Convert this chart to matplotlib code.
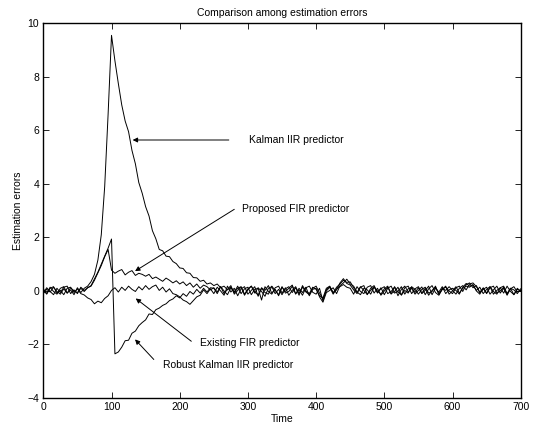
import numpy as np
import matplotlib
matplotlib.use('Agg')
import matplotlib.pyplot as plt

plt.rcParams['font.family'] = ['Liberation Sans', 'DejaVu Sans']

# sample times (every 5 steps)
time = np.arange(0, 701, 5)

kalman_iir = [
    0.08, -0.10, 0.14, -0.02, -0.12, 0.10, 0.16, -0.08, 0.04, -0.14,
    0.12, -0.06, 0.10, 0.18, 0.35, 0.62, 1.15, 2.10, 3.90, 6.60,
    9.55, 8.60, 7.75, 6.95, 6.35, 5.95, 5.25, 4.75, 4.05, 3.65,
    3.15, 2.80, 2.25, 1.95, 1.55, 1.50, 1.30, 1.28, 1.10, 1.02,
    0.86, 0.84, 0.68, 0.66, 0.50, 0.49, 0.36, 0.40, 0.26, 0.30,
    0.20, 0.26, 0.12, 0.18, 0.04, 0.14, -0.06, 0.10, 0.16, -0.12,
    0.08, 0.18, -0.04, -0.15, 0.12, 0.02, 0.20, -0.08, 0.06, -0.18,
    0.14, -0.02, 0.10, 0.22, -0.10, 0.04, -0.16, 0.12, 0.18, -0.05,
    -0.12, 0.10, -0.38, 0.05, 0.16, -0.08, 0.14, 0.26, 0.40, 0.32,
    0.34, 0.12, -0.06, 0.16, 0.02, -0.14, 0.10, 0.20, -0.06, 0.08,
    0.16, -0.10, -0.02, 0.14, -0.18, 0.06, 0.18, -0.04, 0.10, -0.12,
    0.02, 0.15, -0.14, 0.08, 0.20, -0.06, -0.16, 0.06, 0.14, 0.00,
    -0.10, 0.12, 0.18, -0.02, 0.24, 0.30, 0.12, 0.20, -0.08, 0.06,
    0.14, -0.12, 0.04, 0.18, -0.08, 0.10, -0.16, 0.08, 0.16, -0.04,
    0.02,
]

proposed_fir = [
    -0.08, 0.12, -0.02, -0.14, 0.10, -0.06, 0.14, 0.18, -0.10, 0.04,
    -0.10, 0.14, 0.02, 0.12, 0.18, 0.40, 0.68, 0.95, 1.28, 1.55,
    0.78, 0.66, 0.74, 0.80, 0.60, 0.70, 0.76, 0.58, 0.66, 0.62,
    0.55, 0.62, 0.46, 0.52, 0.44, 0.36, 0.48, 0.40, 0.30, 0.38,
    0.26, 0.34, 0.20, 0.30, 0.14, 0.26, 0.10, 0.22, 0.16, 0.04,
    0.12, -0.04, 0.16, -0.10, 0.06, 0.20, -0.12, 0.02, 0.14, -0.16,
    0.04, 0.18, -0.08, 0.12, -0.02, -0.20, 0.10, 0.16, -0.10, 0.06,
    -0.14, 0.08, 0.16, -0.06, 0.12, -0.16, 0.20, 0.00, -0.10, 0.14,
    0.06, -0.18, -0.26, 0.10, 0.18, -0.06, 0.04, 0.30, 0.46, 0.28,
    0.22, 0.04, -0.10, 0.14, 0.20, -0.12, 0.02, 0.16, -0.08, 0.12,
    -0.14, 0.10, 0.18, -0.08, -0.02, 0.16, -0.12, 0.08, 0.14, -0.06,
    0.12, -0.10, 0.02, 0.18, -0.14, 0.10, -0.04, 0.16, -0.10, 0.04,
    0.10, 0.02, -0.12, 0.14, 0.28, 0.18, 0.22, 0.02, 0.14, -0.10,
    0.06, 0.16, -0.12, 0.02, 0.12, -0.08, 0.18, -0.02, -0.14, 0.10,
    -0.02,
]

existing_fir = [
    0.04, -0.12, 0.10, 0.16, -0.08, 0.02, -0.14, 0.10, 0.14, -0.06,
    0.08, -0.10, -0.15, -0.26, -0.32, -0.48, -0.38, -0.44, -0.28, -0.18,
    0.02, 0.12, -0.04, 0.14, 0.02, 0.18, 0.06, -0.02, 0.16, 0.04,
    0.20, 0.06, 0.16, 0.22, 0.02, 0.14, -0.04, 0.08, -0.10, -0.14,
    -0.22, -0.34, -0.40, -0.50, -0.36, -0.22, -0.16, 0.04, -0.10, 0.08,
    -0.10, 0.14, 0.00, -0.16, 0.18, -0.04, 0.10, -0.18, 0.08, 0.16,
    -0.12, 0.02, 0.16, -0.20, 0.10, -0.06, -0.12, 0.18, 0.02, -0.14,
    0.16, -0.08, -0.02, 0.18, -0.12, 0.10, -0.06, 0.14, -0.18, 0.06,
    0.10, -0.22, -0.42, -0.06, 0.02, 0.12, -0.10, 0.20, 0.30, 0.44,
    0.26, 0.18, -0.04, -0.14, 0.10, 0.04, -0.12, 0.14, 0.00, -0.12,
    0.08, 0.18, -0.10, -0.02, 0.14, -0.16, 0.02, -0.08, 0.16, 0.06,
    -0.12, 0.06, 0.14, -0.08, -0.02, 0.18, -0.14, 0.10, 0.02, 0.16,
    0.02, -0.12, 0.10, 0.20, 0.04, 0.26, 0.30, 0.16, -0.04, 0.10,
    -0.10, 0.12, 0.18, -0.08, 0.00, 0.14, -0.12, 0.10, 0.04, -0.10,
    0.08,
]

robust_kalman = [
    -0.10, 0.06, -0.04, 0.14, -0.02, -0.12, 0.08, -0.08, 0.12, 0.00,
    -0.06, 0.10, -0.02, 0.12, 0.20, 0.45, 0.70, 1.00, 1.30, 1.60,
    1.94, -2.35, -2.28, -2.10, -1.86, -1.84, -1.58, -1.50, -1.30, -1.18,
    -1.08, -0.86, -0.88, -0.70, -0.64, -0.54, -0.48, -0.36, -0.30, -0.18,
    -0.26, -0.10, -0.20, -0.02, -0.12, 0.06, -0.08, 0.10, -0.04, 0.12,
    0.10, -0.10, 0.16, 0.00, -0.14, 0.12, -0.04, 0.18, -0.10, 0.08,
    0.14, -0.14, 0.06, 0.10, -0.34, 0.16, -0.02, -0.12, 0.12, 0.18,
    -0.08, 0.12, -0.16, 0.02, 0.16, -0.10, 0.14, -0.04, -0.14, 0.10,
    0.18, -0.08, -0.30, 0.00, 0.14, -0.12, 0.08, 0.16, 0.24, 0.14,
    0.10, -0.12, 0.16, -0.02, -0.10, 0.14, 0.20, -0.08, 0.10, -0.16,
    0.00, 0.14, -0.12, 0.16, -0.04, -0.14, 0.12, 0.18, -0.10, 0.08,
    0.16, -0.08, 0.10, -0.16, 0.02, 0.14, -0.10, 0.06, 0.18, -0.12,
    0.00, 0.16, -0.08, 0.10, 0.18, 0.14, 0.24, 0.00, -0.12, 0.12,
    -0.08, 0.16, -0.02, -0.12, 0.12, 0.18, -0.10, 0.10, -0.14, 0.06,
    0.00,
]

# (label, text anchor, arrow tail, arrow head)
annotations = [
    ('Kalman IIR predictor', (302, 5.64), (272, 5.64), (131, 5.64)),
    ('Proposed FIR predictor', (291, 3.05), (280, 3.05), (134.5, 0.74)),
    ('Existing FIR predictor', (230, -1.94), (217, -1.88), (135.5, -0.28)),
    ('Robust Kalman IIR predictor', (175, -2.77), (162, -2.56), (134.5, -1.81)),
]

fs = 7.5
fig = plt.figure(figsize=(5.36, 4.26), dpi=100)
ax = fig.add_axes([0.0808, 0.0657, 0.8907, 0.8796])

for series in (kalman_iir, proposed_fir, existing_fir, robust_kalman):
    ax.plot(time, series, color='k', lw=0.7)

for label, txt, tail, head in annotations:
    ax.annotate('', xy=head, xytext=tail,
                arrowprops=dict(arrowstyle='-|>', color='k', lw=0.7,
                                mutation_scale=7, shrinkA=0, shrinkB=0))
    ax.text(txt[0], txt[1], label, fontsize=fs, ha='left', va='center')

ax.set_xlim(0, 700)
ax.set_ylim(-4, 10)
ax.set_xticks(np.arange(0, 701, 100))
ax.set_yticks(np.arange(-4, 11, 2))
ax.tick_params(direction='in', top=True, right=True, length=4,
               width=0.6, labelsize=fs, pad=3)
for sp in ax.spines.values():
    sp.set_linewidth(1.0)

ax.set_title('Comparison among estimation errors', fontsize=fs, pad=5)
ax.set_xlabel('Time', fontsize=fs, labelpad=1)
ax.set_ylabel('Estimation errors', fontsize=fs, labelpad=3)

fig.savefig('out.png', dpi=100)
